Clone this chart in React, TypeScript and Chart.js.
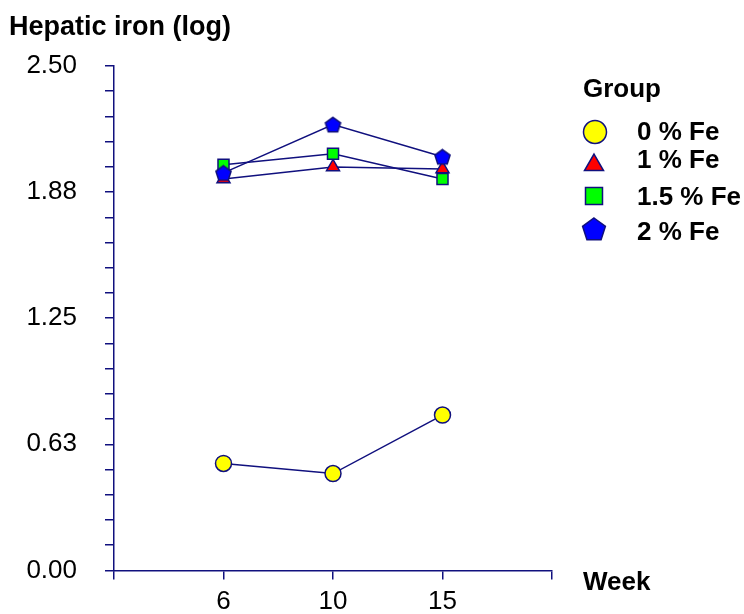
import React, { useEffect, useRef } from "react";
import { Chart, registerables } from "chart.js";

Chart.register(...registerables);

// Weeks on the x axis and mean hepatic iron (log) per group
const weeks = ["6", "10", "15"];
const fe0 = [0.53, 0.48, 0.77];
const fe1 = [1.94, 2.0, 1.99];
const fe15 = [2.01, 2.065, 1.94];
const fe2 = [1.97, 2.21, 2.05];
const groupNames = ["0 % Fe", "1 % Fe", "1.5 % Fe", "2 % Fe"];

const NAVY = "#10107e";
const FONT = "'Liberation Sans', Arial, Helvetica, sans-serif";

function pentagonPath(ctx: CanvasRenderingContext2D, cx: number, cy: number, r: number) {
  ctx.beginPath();
  for (let i = 0; i < 5; i++) {
    const a = -Math.PI / 2 + (i * 2 * Math.PI) / 5;
    const x = cx + r * Math.cos(a);
    const y = cy + r * Math.sin(a);
    if (i === 0) ctx.moveTo(x, y);
    else ctx.lineTo(x, y);
  }
  ctx.closePath();
}

function pentagonImage(r: number, fill: string, stroke: string, lw: number) {
  const size = Math.ceil(2 * r + 2 * lw + 2);
  const c = document.createElement("canvas");
  c.width = size;
  c.height = size;
  const ctx = c.getContext("2d")!;
  pentagonPath(ctx, size / 2, size / 2 + r * 0.1, r);
  ctx.fillStyle = fill;
  ctx.fill();
  ctx.lineWidth = lw;
  ctx.strokeStyle = stroke;
  ctx.stroke();
  return c;
}

function trianglePath(ctx: CanvasRenderingContext2D, cx: number, cy: number, r: number) {
  ctx.beginPath();
  for (let i = 0; i < 3; i++) {
    const a = -Math.PI / 2 + (i * 2 * Math.PI) / 3;
    const x = cx + r * Math.cos(a);
    const y = cy + r * Math.sin(a);
    if (i === 0) ctx.moveTo(x, y);
    else ctx.lineTo(x, y);
  }
  ctx.closePath();
}

const decorations = {
  id: "decorations",
  afterDraw(chart: any) {
    const ctx: CanvasRenderingContext2D = chart.ctx;
    ctx.save();
    ctx.fillStyle = "#000";
    ctx.textAlign = "left";
    ctx.textBaseline = "alphabetic";
    ctx.font = `bold 27px ${FONT}`;
    ctx.fillText("Hepatic iron (log)", 9, 35);
    ctx.font = `bold 26px ${FONT}`;
    ctx.fillText("Week", 583, 590);
    ctx.fillText("Group", 583, 97);

    const rows = [140, 168, 205, 240];
    groupNames.forEach((name, i) => {
      ctx.fillStyle = "#000";
      ctx.fillText(name, 637, rows[i]);
    });

    ctx.lineWidth = 1.5;
    ctx.strokeStyle = NAVY;
    // circle
    ctx.beginPath();
    ctx.arc(595, 132, 11.5, 0, Math.PI * 2);
    ctx.fillStyle = "#ffff00";
    ctx.fill();
    ctx.stroke();
    // triangle
    trianglePath(ctx, 594, 165, 11);
    ctx.fillStyle = "#ff0000";
    ctx.fill();
    ctx.stroke();
    // square
    ctx.beginPath();
    ctx.rect(594 - 8.5, 196 - 8.5, 17, 17);
    ctx.fillStyle = "#00ff00";
    ctx.fill();
    ctx.stroke();
    // pentagon
    pentagonPath(ctx, 594, 230, 12);
    ctx.fillStyle = "#0000ff";
    ctx.fill();
    ctx.stroke();
    ctx.restore();
  },
};

export default function App() {
  const canvasRef = useRef<HTMLCanvasElement | null>(null);

  useEffect(() => {
    const canvas = canvasRef.current;
    if (!canvas) return;
    const pad = (arr: number[]) => [null, ...arr, null];
    const pent = pentagonImage(8, "#0000ff", NAVY, 1.5);

    const chart = new Chart(canvas, {
      type: "line",
      data: {
        labels: ["", ...weeks, ""],
        datasets: [
          {
            label: groupNames[0],
            data: pad(fe0),
            borderColor: NAVY,
            borderWidth: 1.5,
            pointStyle: "circle",
            pointRadius: 8,
            pointBackgroundColor: "#ffff00",
            pointBorderColor: NAVY,
            pointBorderWidth: 1.5,
            order: 4,
          },
          {
            label: groupNames[1],
            data: pad(fe1),
            borderColor: NAVY,
            borderWidth: 1.5,
            pointStyle: "triangle",
            pointRadius: 7.5,
            pointBackgroundColor: "#ff0000",
            pointBorderColor: NAVY,
            pointBorderWidth: 1.5,
            order: 3,
          },
          {
            label: groupNames[2],
            data: pad(fe15),
            borderColor: NAVY,
            borderWidth: 1.5,
            pointStyle: "rect",
            pointRadius: 7.8,
            pointBackgroundColor: "#00ff00",
            pointBorderColor: NAVY,
            pointBorderWidth: 1.5,
            order: 2,
          },
          {
            label: groupNames[3],
            data: pad(fe2),
            borderColor: NAVY,
            borderWidth: 1.5,
            pointStyle: pent as any,
            pointRadius: 8,
            pointBackgroundColor: "#0000ff",
            pointBorderColor: NAVY,
            order: 1,
          },
        ],
      },
      options: {
        animation: false,
        responsive: false,
        devicePixelRatio: 1,
        layout: { padding: { top: 66, right: 192, left: 0, bottom: 0 } },
        plugins: {
          legend: { display: false },
          title: { display: false },
          tooltip: { enabled: false },
        },
        elements: { line: { tension: 0 } },
        scales: {
          x: {
            type: "category",
            offset: false,
            afterFit: (s: any) => {
              s.height = 40;
            },
            grid: {
              offset: false,
              drawOnChartArea: false,
              drawTicks: true,
              tickLength: 9,
              color: NAVY,
              lineWidth: 1.5,
            },
            border: { display: true, color: NAVY, width: 1.5 },
            ticks: {
              autoSkip: false,
              maxRotation: 0,
              padding: 7,
              color: "#000",
              font: { family: FONT, size: 26 },
            },
          },
          y: {
            type: "linear",
            min: 0,
            max: 2.5,
            afterFit: (s: any) => {
              s.width = 114;
            },
            grid: {
              drawOnChartArea: false,
              drawTicks: true,
              tickLength: 9,
              color: NAVY,
              lineWidth: 1.5,
            },
            border: { display: true, color: NAVY, width: 1.5 },
            ticks: {
              stepSize: 0.125,
              autoSkip: false,
              padding: 28,
              color: "#000",
              font: { family: FONT, size: 26 },
              callback: (v: any, i: number) => (i % 5 === 0 ? Number(v).toFixed(2) : ""),
            },
          },
        },
      },
      plugins: [decorations],
    });
    return () => chart.destroy();
  }, []);

  return (
    <div style={{ position: "fixed", left: 0, top: 0, width: 744, height: 614, background: "#fff" }}>
      <canvas ref={canvasRef} width={744} height={614} style={{ display: "block", width: 744, height: 614 }} />
    </div>
  );
}
